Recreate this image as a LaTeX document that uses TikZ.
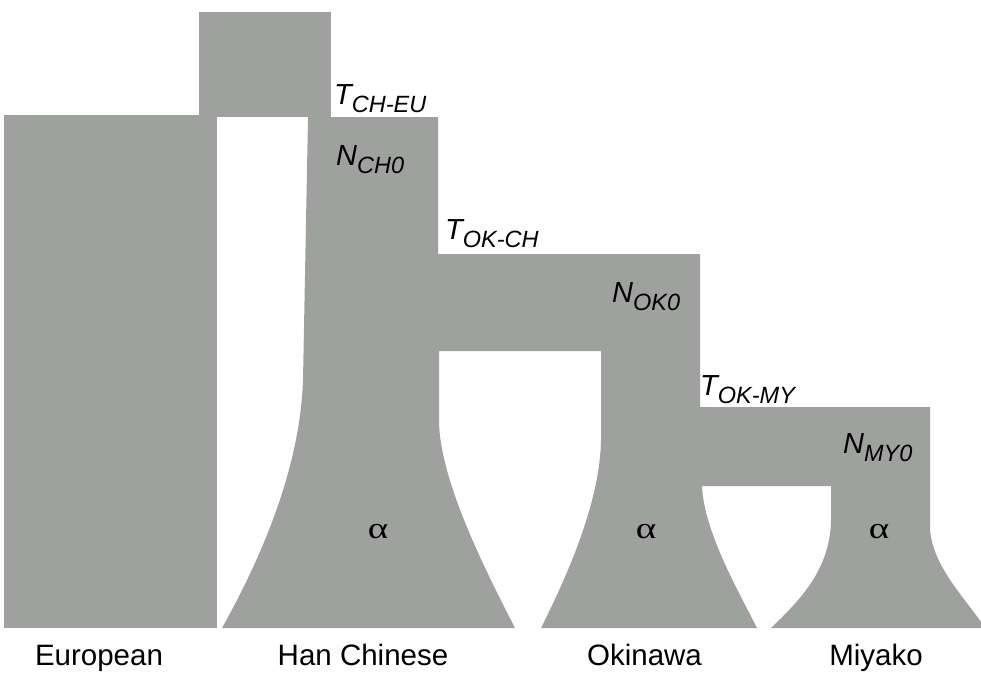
\documentclass[tikz,border=0pt]{standalone}
\usepackage{fontspec}
\setmainfont{Liberation Sans}
\newfontfamily\serifgreek{Liberation Serif}
\definecolor{popgray}{RGB}{159,161,159}
\begin{document}
\begin{tikzpicture}[x=1pt,y=-1pt,
  pop/.style={fill=popgray},
  lab/.style={inner sep=0pt, anchor=base, font=\fontsize{29.5}{34}\selectfont},
  par/.style={inner sep=0pt, anchor=base west, font=\fontsize{29}{32}\selectfont\itshape},
  alph/.style={inner sep=0pt, font=\fontsize{30}{34}\selectfont\serifgreek}]
\useasboundingbox (0,0) rectangle (981,675);
\clip (0,0) rectangle (981,675);
% ancestral box
\fill[pop] (199,12) rectangle (331,117);
% European
\fill[pop] (4,115) rectangle (217,628);
% Han Chinese + Okinawa + Miyako
\fill[pop] (308,117) -- (438,117) -- (438,254) -- (700,254) -- (700,407) -- (930,407) -- (930,530)
  .. controls (933,565) and (962,595) .. (981,622) -- (981,628) -- (771,628)
  .. controls (800,600) and (830,570) .. (831,520) -- (831,486) -- (702,486)
  .. controls (704,530) and (735,585) .. (757,628) -- (541,628)
  .. controls (570,570) and (600,500) .. (601,440) -- (601,351) -- (439,351) -- (439,423)
  .. controls (441,480) and (480,560) .. (515,628) -- (222,628)
  .. controls (260,560) and (300,470) .. (303,380) -- cycle;
% parameter labels
\node[par] (tcheu) at (334,104) {T\raisebox{-8pt}{\fontsize{23.5}{26}\selectfont CH-EU}};
\node[par] (nch) at (336,165) {N\raisebox{-8pt}{\fontsize{23.5}{26}\selectfont CH0}};
\node[par] (tokch) at (445,239) {T\raisebox{-8pt}{\fontsize{23.5}{26}\selectfont OK-CH}};
\node[par] (nok) at (612,302) {N\raisebox{-8pt}{\fontsize{23.5}{26}\selectfont OK0}};
\node[par] (tokmy) at (700,395) {T\raisebox{-8pt}{\fontsize{23.5}{26}\selectfont OK-MY}};
\node[par] (nmy) at (843,453) {N\raisebox{-8pt}{\fontsize{23.5}{26}\selectfont MY0}};
% growth rate
\node[alph] (a1) at (378,532) {\scalebox{1.3}[1]{α}};
\node[alph] (a2) at (646,532) {\scalebox{1.3}[1]{α}};
\node[alph] (a3) at (879,532) {\scalebox{1.3}[1]{α}};
% population names
\node[lab] (eu) at (99,665) {European};
\node[lab] (ch) at (363,665) {Han Chinese};
\node[lab] (ok) at (644.5,665) {Okinawa};
\node[lab] (my) at (876,665) {Miyako};
\end{tikzpicture}
\end{document}
